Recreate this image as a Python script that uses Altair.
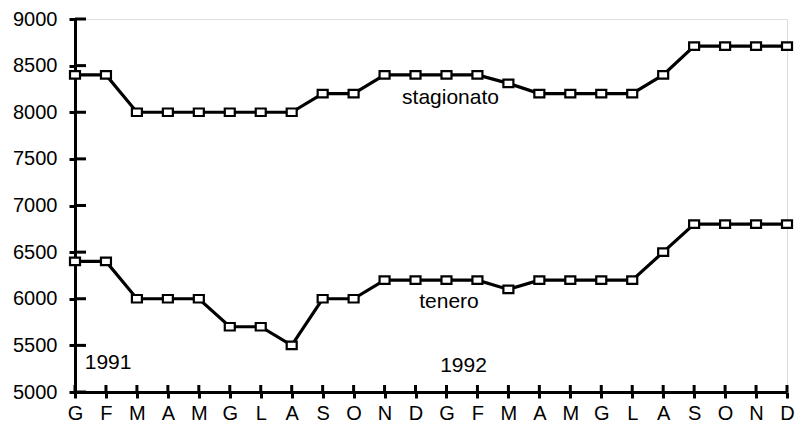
import altair as alt
import pandas as pd

# Monthly price series, Jan 1991 - Dec 1992
months = ["G", "F", "M", "A", "M", "G", "L", "A", "S", "O", "N", "D",
          "G", "F", "M", "A", "M", "G", "L", "A", "S", "O", "N", "D"]
stagionato = [8400, 8400, 8000, 8000, 8000, 8000, 8000, 8000, 8200, 8200, 8400, 8400,
              8400, 8400, 8310, 8200, 8200, 8200, 8200, 8400, 8710, 8710, 8710, 8710]
tenero = [6400, 6400, 6000, 6000, 6000, 5700, 5700, 5500, 6000, 6000, 6200, 6200,
          6200, 6200, 6100, 6200, 6200, 6200, 6200, 6500, 6800, 6800, 6800, 6800]
y_ticks = [5000, 5500, 6000, 6500, 7000, 7500, 8000, 8500, 9000]

# Text annotations placed in data units (month index, value)
note_text = ["stagionato", "tenero", "1991", "1992"]
note_x = [12.13, 12.08, 1.07, 12.55]
note_y = [8088, 5904, 5243, 5218]

FONT = "Liberation Sans"
FS = 20
W, H = 712, 373
Y0, Y1 = 5000, 9000
N = len(months)

rows = []
for i in range(N):
    rows.append({"i": i, "serie": "stagionato", "v": stagionato[i]})
    rows.append({"i": i, "serie": "tenero", "v": tenero[i]})
df = pd.DataFrame(rows)
notes = pd.DataFrame({"i": note_x, "v": note_y, "t": note_text})

# inner halves of the axis ticks (11 px right of the y axis, 7 px above the x axis)
y_in = 11 * (N - 1) / W
x_in = 7 * (Y1 - Y0) / H
yt = pd.DataFrame({"v": y_ticks, "i": [0.0] * len(y_ticks), "i2": [y_in] * len(y_ticks)})
xt = pd.DataFrame({"i": list(range(N)), "v": [Y0] * N, "v2": [Y0 + x_in] * N})

label_expr = "[" + ",".join("'%s'" % m for m in months) + "][datum.value]"

xscale = alt.Scale(domain=[0, N - 1], nice=False, zero=False)
yscale = alt.Scale(domain=[Y0, Y1], nice=False, zero=False)

x_axis = alt.Axis(values=list(range(N)), labelExpr=label_expr, title=None,
                  grid=False, domainWidth=3, domainColor="black", tickWidth=3,
                  tickColor="black", tickSize=6, labelPadding=5, labelFont=FONT,
                  labelFontSize=FS, labelColor="black", labelFlush=False,
                  labelOverlap=False)
y_axis = alt.Axis(values=y_ticks, title=None, grid=False, domainWidth=3,
                  domainColor="black", tickWidth=3, tickColor="black", tickSize=6,
                  labelPadding=12, labelFont=FONT, labelFontSize=FS,
                  labelColor="black", format="d", labelOverlap=False)

X = alt.X("i:Q", scale=xscale, axis=x_axis)
Y = alt.Y("v:Q", scale=yscale, axis=y_axis)

# slightly wide rectangular marker
marker = "M-1,-0.75L1,-0.75L1,0.75L-1,0.75Z"

lines = alt.Chart(df).mark_line(color="black", strokeWidth=3.2).encode(
    x=X, y=Y, detail="serie:N")
points = alt.Chart(df).mark_point(shape=marker, size=100, filled=True, fill="white",
                                  stroke="black", strokeWidth=2.2, opacity=1).encode(
    x=X, y=Y)

y_inner = alt.Chart(yt).mark_rule(color="black", strokeWidth=3).encode(
    x=X, x2="i2:Q", y=Y)
x_inner = alt.Chart(xt).mark_rule(color="black", strokeWidth=3).encode(
    x=X, y=Y, y2="v2:Q")

labels = alt.Chart(notes).mark_text(font=FONT, fontSize=FS + 1, color="black",
                                    align="center", baseline="alphabetic").encode(
    x=X, y=Y, text="t:N")

chart = alt.layer(lines, y_inner, x_inner, points, labels).properties(
    width=W, height=H,
    autosize=alt.AutoSizeParams(type="none"),
    padding={"left": 75, "top": 19, "right": 12, "bottom": 32},
).configure_view(stroke=None).configure(background="white")

chart.save("out.html", embed_options={"renderer": "svg", "actions": False})
